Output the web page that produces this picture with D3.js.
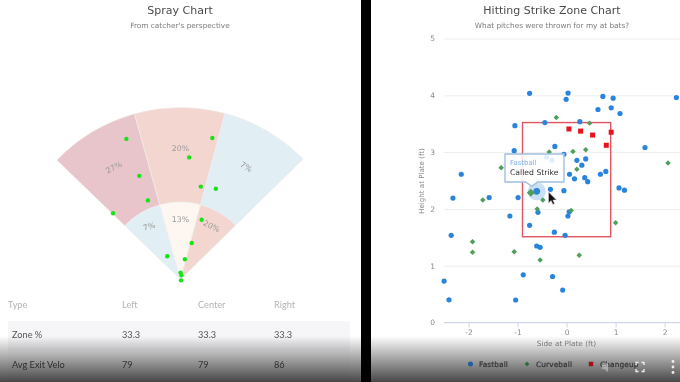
<!DOCTYPE html>
<html><head><meta charset="utf-8">
<script src="https://cdnjs.cloudflare.com/ajax/libs/d3/7.8.5/d3.min.js"></script>
<style>
html,body{margin:0;padding:0;background:#fff;overflow:hidden}
svg{display:block}
.t{font-family:"DejaVu Sans",sans-serif}
.l{font-family:Lato,sans-serif}
#plot{filter:blur(.35px)}
</style></head><body>
<svg id="plot" width="680" height="382"></svg>
<script>
// Spray chart
const sprayBoundaries = [-46, -15.5, 15, 45.5];
const sprayInnerFt = 180, sprayOuterFt = 400;
const outerPct = ["27%", "20%", "7%"];
const innerPct = ["7%", "13%", "20%"];
const outerFill = ["#e8c5ca", "#f3d6d0", "#e1eef4"];
const innerFill = ["#e1eef4", "#fdf6f1", "#f3d6d0"];
const hitX = [-127, -97, -77, -158, -32, -1, 1, 0, 9, 25, 48, 46, 81, 19, 73];
const hitY = [327, 241, 184, 154, 54, 16, 10, -2, 47, 85, 139, 216, 211, 284, 329];
// Table
const tableHead = ["Type", "Left", "Center", "Right"];
const tableRows = [["Zone %", "33.3", "33.3", "33.3"], ["Avg Exit Velo", "79", "79", "86"]];
// Strike zone chart
const xTicks = [-2, -1, 0, 1, 2];
const yTicks = [0, 1, 2, 3, 4, 5];
const zoneX = [-0.9, 0.9];
const zoneY = [1.51, 3.52];
const fastX = [-0.755,-1.055,-0.443,-1.07,-2.15,-2.32,-1.58,-0.99,-0.61,0.03,-0.01,0.74,0.95,2.24,0.64,0.91,1.09,0.27,-0.24,1.6,-0.055,-0.41,-0.3,0.21,0.39,0.31,0.06,0.16,0.37,0.43,0.69,0.8,1.07,1.18,-0.33,-0.055,-0.585,-1.157,-0.755,-2.355,-0.61,-0.54,-0.885,-2.5,-2.4,-1.04,0.053,0.027,-0.25,-0.03,-0.286,-0.08];
const fastY = [4.035,3.465,3.52,3.025,2.61,2.19,2.2,2.2,2.31,4.04,3.93,3.98,3.95,3.96,3.75,3.78,3.68,3.535,3.1,3.08,2.96,2.91,2.855,2.855,2.88,2.77,2.61,2.53,2.55,2.48,2.61,2.66,2.37,2.33,2.345,2.32,1.94,1.875,1.71,1.535,1.347,1.324,0.84,0.73,0.4,0.396,1.95,1.875,1.59,1.535,0.81,0.57];
const curveX = [-1.335,-1.71,-0.73,-0.484,-0.355,-0.21,0.47,0.13,0.39,0.21,2.07,-0.6,-1.92,-1.92,-1.07,-0.54,0.094,1.0,0.257];
const curveY = [2.725,2.157,2.285,2.157,3.0,3.61,3.51,3.01,3.04,2.7,2.81,2.0,1.42,1.236,1.247,1.1,1.97,1.757,1.183];
const changeX = [0.047,0.286,0.53,0.91,0.81];
const changeY = [3.407,3.37,3.3,3.35,3.12];
const legendNames = ["Fastball", "Curveball", "Changeup"];
const legendColors = ["#1f5f9e", "#2f6e38", "#a01016"];
const hoverIndex = 8, hoverCurve = 2;

const svg = d3.select("#plot");
const ink = "#4a4a4a", sub = "#7a7a7a", axisInk = "#8a8a8a";

svg.append("rect").attr("x",361).attr("width",10).attr("height",382).attr("fill","#000");

function text(x,y,s,size,fill,cls,anchor,extra){
  const t=svg.append("text").attr("x",x).attr("y",y).attr("class",cls||"t")
    .attr("font-size",size).attr("fill",fill).attr("text-anchor",anchor||"middle").text(s);
  if(extra) t.attr("transform",extra);
  return t;
}

// ---- Spray
text(180,14,"Spray Chart",11,ink);
text(180,27.5,"From catcher's perspective",7.35,sub);
const cx=180.5, cy=279.5;
const rS=d3.scaleLinear().domain([0,400]).range([0,172]);
const rad=d=>d*Math.PI/180;
const g=svg.append("g").attr("transform",`translate(${cx},${cy})`);
const arc=d3.arc();
d3.range(3).forEach(i=>{
  const a0=rad(sprayBoundaries[i]),a1=rad(sprayBoundaries[i+1]);
  g.append("path").attr("d",arc({innerRadius:rS(sprayInnerFt),outerRadius:rS(sprayOuterFt),startAngle:a0,endAngle:a1}))
    .attr("fill",outerFill[i]).attr("stroke","#eee").attr("stroke-width",.6);
  g.append("path").attr("d",arc({innerRadius:0,outerRadius:rS(sprayInnerFt),startAngle:a0,endAngle:a1}))
    .attr("fill",innerFill[i]).attr("stroke","#eee").attr("stroke-width",.6);
});
const mid=i=>(sprayBoundaries[i]+sprayBoundaries[i+1])/2;
function polarLabel(s,ang,ft,rot){
  const r=rS(ft),a=rad(ang);
  g.append("text").attr("class","t").attr("font-size",7.8).attr("fill","#9a9a9a").attr("text-anchor","middle").attr("dominant-baseline","middle")
   .attr("transform",`translate(${r*Math.sin(a)},${-r*Math.cos(a)}) rotate(${rot})`).text(s);
}
const outerFt=[302,304,302], innerFt=[142,138,142], outerRot=[-28,0,32], innerRot=[-17,0,26];
[0,1,2].forEach(i=>{
  polarLabel(outerPct[i],i===1?0:mid(i),outerFt[i],outerRot[i]);
  polarLabel(innerPct[i],i===1?0:mid(i),innerFt[i],innerRot[i]);
});
const px=d3.scaleLinear().domain([-400,400]).range([cx+.5-172,cx+.5+172]);
const py=d3.scaleLinear().domain([0,400]).range([cy,cy-172]);
svg.selectAll(".hit").data(hitX).join("circle").attr("class","hit")
  .attr("cx",d=>px(d)).attr("cy",(d,i)=>py(hitY[i])).attr("r",2.2).attr("fill","#17e317");

// ---- Table
svg.append("rect").attr("x",8).attr("y",321).attr("width",342).attr("height",30).attr("rx",2).attr("fill","#f6f6f9");
svg.append("rect").attr("x",8).attr("y",351).attr("width",342).attr("height",31).attr("fill","#fbfbfc");
const colX=[8,122,198,274];
tableHead.forEach((s,i)=>text(colX[i],308,s,9.2,"#b4b4b4","l","start"));
tableRows.forEach((r,j)=>r.forEach((s,i)=>text(colX[i]+(i===0?4:0),338+j*30,s,9.2,"#555","l","start")));

// ---- Strike zone
text(552,14,"Hitting Strike Zone Chart",11,ink);
text(552,27.5,"What pitches were thrown for my at bats?",7.35,sub);
const x=d3.scaleLinear().domain([-2,2]).range([468.6,664.6]);
const y=d3.scaleLinear().domain([0,5]).range([322.5,38.5]);
const yAxis=svg.append("g").attr("transform","translate(444,0)")
  .call(d3.axisLeft(y).tickValues(yTicks).tickSize(-236).tickFormat(d3.format("d")));
yAxis.select(".domain").remove();
yAxis.selectAll("line").attr("stroke","#eeeeee");
yAxis.selectAll("text").attr("x",-9).attr("class","t").attr("font-size",7.5).attr("font-family",null).attr("fill",axisInk);
const xAxis=svg.append("g").attr("transform","translate(0,322.5)")
  .call(d3.axisBottom(x).tickValues(xTicks).tickSize(5).tickFormat(d=>d3.format("d")(d).replace("\u2212","-")));
xAxis.select(".domain").attr("d","M444,0H680").attr("stroke","#ccd6eb");
xAxis.selectAll("line").attr("stroke","#ccd6eb");
xAxis.selectAll("text").attr("y",7).attr("dy","0.71em").attr("class","t").attr("font-size",7.5).attr("font-family",null).attr("fill",axisInk);
text(566.5,346,"Side at Plate (ft)",7.3,axisInk);
text(0,0,"Height at Plate (ft)",7.1,axisInk,"t","middle",`translate(424,181) rotate(-90)`);

svg.append("rect").attr("x",x(zoneX[0])).attr("y",y(zoneY[1]))
  .attr("width",x(zoneX[1])-x(zoneX[0])).attr("height",y(zoneY[0])-y(zoneY[1]))
  .attr("fill","none").attr("stroke","#e0555f").attr("stroke-width",1.4);

svg.append("circle").attr("cx",x(fastX[hoverIndex])).attr("cy",y(fastY[hoverIndex])).attr("r",9).attr("fill","#2a84dc").attr("opacity",.25);
svg.selectAll(".fb").data(fastX).join("circle").attr("class","fb")
  .attr("cx",d=>x(d)).attr("cy",(d,i)=>y(fastY[i])).attr("r",(d,i)=>i===hoverIndex?3.4:2.6).attr("fill","#2a84dc");
const sq=d3.symbol().type(d3.symbolSquare);
svg.selectAll(".cb").data(curveX).join("path").attr("class","cb")
  .attr("d",(d,i)=>sq.size(i===hoverCurve?32:15)())
  .attr("transform",(d,i)=>`translate(${x(d)},${y(curveY[i])}) rotate(45)`).attr("fill","#4e9f5c");
svg.selectAll(".cu").data(changeX).join("rect").attr("class","cu")
  .attr("x",d=>x(d)-2.5).attr("y",(d,i)=>y(changeY[i])-2.5).attr("width",5).attr("height",5).attr("fill","#e8121c");

// Tooltip
const hx=x(fastX[hoverIndex]), hy=y(fastY[hoverIndex]);
const tipL=505,tipR=564,tipT=154,tipB=182;
svg.append("path").attr("d",`M${tipL},${tipT}H${tipR}V${tipB}H${hx+1}L${hx-5},${hy-5}L${hx-11},${tipB}H${tipL}Z`)
  .attr("fill","#fff").attr("fill-opacity",.86).attr("stroke","#9fc0e0").attr("stroke-width",1.4);
text(tipL+5,165,legendNames[0],7,"#7cb0e6","t","start");
text(tipL+5,175,"Called Strike",7.7,"#333","t","start");
// cursor
const cur=svg.append("g").attr("transform","translate(548.5,192)");
cur.append("path").attr("d","M0,0V11L2.6,8.6L4.4,12.4L6,11.6L4.4,8H8Z").attr("fill","#111").attr("stroke","#ddd").attr("stroke-width",.5);

// Video shade
const defs=svg.append("defs");
const lg=defs.append("linearGradient").attr("id","shade").attr("x1",0).attr("x2",0).attr("y1",0).attr("y2",1);
lg.append("stop").attr("offset","0").attr("stop-color","#000").attr("stop-opacity",0);
lg.append("stop").attr("offset","1").attr("stop-color","#000").attr("stop-opacity",.72);
svg.append("rect").attr("x",0).attr("y",336).attr("width",680).attr("height",46).attr("fill","url(#shade)");

// Legend (over the shade, as in the reference)
const lgX=[470.5,527,591], lgTx=[479,536,600];
const syms=[d3.symbolCircle,d3.symbolSquare,d3.symbolSquare];
legendNames.forEach((s,i)=>{
  svg.append("path").attr("d",d3.symbol().type(syms[i]).size(i===1?12:20)())
    .attr("transform",`translate(${lgX[i]},364)${i===1?" rotate(45)":""}`).attr("fill",legendColors[i]);
  text(lgTx[i],367,s,7.4,"#333","t","start").attr("stroke","#333").attr("stroke-width",.2).attr("letter-spacing",".1");
});
// Player controls
const ctl=svg.append("g").attr("fill","none").attr("stroke","#eee").attr("stroke-width",1.3);
ctl.append("path").attr("d","M636,365V362.5H638.5M641.5,362.5H644V365M644,369V371.5H641.5M638.5,371.5H636V369");
svg.selectAll(".dot3").data([361.5,367,372.5]).join("circle").attr("class","dot3").attr("cx",673).attr("cy",d=>d).attr("r",1.4).attr("fill","#eee");
svg.append("path").attr("d","M602,365H604.5L608,362V372L604.5,369H602Z").attr("fill","#ccc").attr("opacity",.6);
</script>
</body></html>
